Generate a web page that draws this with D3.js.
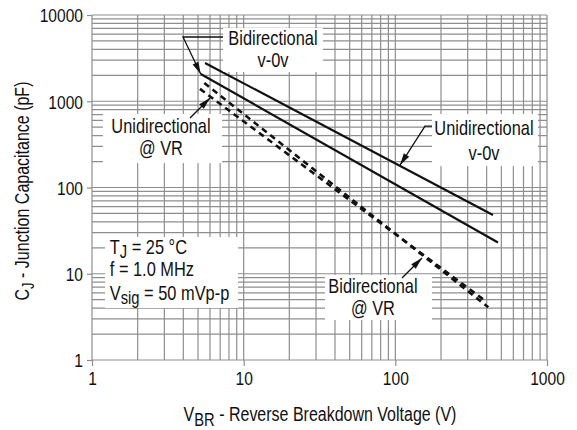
<!DOCTYPE html>
<html lang="en">
<head>
<meta charset="UTF-8">
<title>Junction Capacitance vs Reverse Breakdown Voltage</title>
<script src="https://d3js.org/d3.v7.min.js"></script>
<style>
  body { margin: 0; background: #fff; }
  svg { display: block; font-family: "Liberation Sans", Arial, sans-serif; }
  .grid line { stroke: #8e8e8e; stroke-width: 1.2; }
  .tick line { stroke: #8e8e8e; stroke-width: 1.2; }
  .tick text { font-size: 19px; fill: #111; }
  .note { font-size: 20px; fill: #111; }
  .title { font-size: 19.5px; fill: #111; }
</style>
</head>
<body>
<svg id="chart" width="577" height="430"></svg>
<script>
'use strict';

// axis ticks (log decades)
const xTicks = [1, 10, 100, 1000];
const yTicks = [1, 10, 100, 1000, 10000];

// curves: [V_BR (V), C_J (pF)] end points, straight on log-log paper
const uniZeroBias = [[5.56, 2780], [440, 48]];
const biZeroBias = [[5.21, 2070], [475, 23]];
const uniAtVR = [[5.15, 1390], [395, 4.8]];
const biAtVR = [[5.5, 1630], [410, 4.1]];

// no condensed face installed, so squeeze a regular sans horizontally
const SQUEEZE = 0.82;

const svg = d3.select('#chart');
const x = d3.scaleLog().domain([1, 1000]).range([92, 547]);
const y = d3.scaleLog().domain([1, 10000]).range([360, 15]);

// minor + major grid, 1..9 per decade
const decadeLines = (lo, hi) => {
    const out = [];
    for (let d = lo; d < hi; d *= 10)
        for (let k = 1; k < 10; k++) out.push(d * k);
    out.push(hi);
    return out;
};

const grid = svg.append('g').attr('class', 'grid');
grid.selectAll('.v').data(decadeLines(1, 1000)).enter().append('line')
    .attr('x1', d => x(d)).attr('x2', d => x(d))
    .attr('y1', y(1)).attr('y2', y(10000));
grid.selectAll('.h').data(decadeLines(1, 10000)).enter().append('line')
    .attr('x1', x(1)).attr('x2', x(1000))
    .attr('y1', d => y(d)).attr('y2', d => y(d));

// axes: short outside ticks, labels only at decades
const xAxis = d3.axisBottom(x).tickValues(xTicks).tickFormat(d3.format('d')).tickSize(6).tickPadding(6);
const yAxis = d3.axisLeft(y).tickValues(yTicks).tickFormat(d3.format('d')).tickSize(5).tickPadding(4);
const gx = svg.append('g').attr('transform', `translate(0,${y(1)})`).call(xAxis);
const gy = svg.append('g').attr('transform', `translate(${x(1)},0)`).call(yAxis);
[gx, gy].forEach(g => {
    g.select('.domain').remove();
    g.attr('font-family', null).attr('font-size', null);
    g.selectAll('.tick text').attr('transform', `scale(${SQUEEZE},1)`);
});
gy.selectAll('.tick text').attr('dy', '0.36em').attr('x', -9 / SQUEEZE);

// data lines
const line = d3.line().x(d => x(d[0])).y(d => y(d[1]));
const curves = [
    { pts: uniZeroBias, dash: null, w: 2.2 },
    { pts: biZeroBias, dash: null, w: 2.2 },
    { pts: uniAtVR, dash: '6,4.5', w: 2.6 },
    { pts: biAtVR, dash: '6,4.5', w: 2.6 }
];
svg.append('g').selectAll('path').data(curves).enter().append('path')
    .attr('d', d => line(d.pts))
    .attr('fill', 'none')
    .attr('stroke', '#111')
    .attr('stroke-width', d => d.w)
    .attr('stroke-dasharray', d => d.dash);

// callouts, placed in data units
const notes = [
    { lines: ['Bidirectional', 'v-0v'], tx: 15.6, base: [4487, 2515], box: [[7.31, 7064], [33.3, 2183]],
      leader: [[7.31, 5557], [3.98, 5557], biZeroBias[0]] },
    { lines: ['Unidirectional', 'v-0v'], tx: 384, base: [406, 208], box: [[174.5, 711], [872, 177]],
      leader: [[174.5, 516], [156.9, 516], [107.4, 182]] },
    { lines: ['Unidirectional', '@ VR'], tx: 2.85, base: [428.5, 238], box: [[1.18, 711], [7.2, 192]],
      leader: [[4.43, 640], [6.0, 1092]] },
    { lines: ['Bidirectional', '@ VR'], tx: 71.2, base: [5.98, 3.32], box: [[34.4, 9.67], [174.5, 2.91]],
      leader: [[110.7, 8.93], [149.9, 15.2]] }
];

const boxes = svg.append('g');
const labels = svg.append('g');
const leaders = svg.append('g');

function whiteBox(b) {
    boxes.append('rect')
        .attr('x', x(b[0][0])).attr('y', y(b[0][1]))
        .attr('width', x(b[1][0]) - x(b[0][0]))
        .attr('height', y(b[1][1]) - y(b[0][1]))
        .attr('fill', '#fff');
}

function narrowText(parent, px, py, cls) {
    return parent.append('text').attr('class', cls)
        .attr('transform', `translate(${px},${py}) scale(${SQUEEZE},1)`);
}

function arrow(pts) {
    const p = pts.map(d => [x(d[0]), y(d[1])]);
    leaders.append('path')
        .attr('d', d3.line()(p))
        .attr('fill', 'none').attr('stroke', '#111').attr('stroke-width', 1.3);
    const [ax, ay] = p[p.length - 2];
    const [bx, by] = p[p.length - 1];
    const len = Math.hypot(bx - ax, by - ay);
    const ux = (bx - ax) / len, uy = (by - ay) / len;
    const L = 12, W = 3.2;
    leaders.append('path')
        .attr('d', `M${bx},${by}L${bx - ux * L - uy * W},${by - uy * L + ux * W}L${bx - ux * L + uy * W},${by - uy * L - ux * W}Z`)
        .attr('fill', '#111');
}

notes.forEach(n => {
    whiteBox(n.box);
    n.lines.forEach((t, i) => {
        narrowText(labels, x(n.tx), y(n.base[i]), 'note')
            .attr('text-anchor', 'middle').text(t);
    });
    arrow(n.leader);
});

// test conditions block
whiteBox([[1.22, 26.7], [9.18, 4.01]]);
const cond = [[16.9, 'T', 'J', ' = 25 °C'], [9.42, 'f = 1.0 MHz', '', ''], [4.96, 'V', 'sig', ' = 50 mVp-p']];
cond.forEach(c => {
    const t = narrowText(labels, x(1.31), y(c[0]), 'note');
    t.append('tspan').text(c[1]);
    if (c[2]) {
        t.append('tspan').attr('dy', 4).attr('font-size', '18px').text(c[2]);
        t.append('tspan').attr('dy', -4).text(c[3]);
    }
});

// axis titles
const yt = svg.append('text').attr('class', 'title')
    .attr('transform', `translate(29,191) rotate(-90) scale(${SQUEEZE},1)`).attr('text-anchor', 'middle');
yt.append('tspan').text('C');
yt.append('tspan').attr('dy', 5).attr('font-size', '16px').text('J');
yt.append('tspan').attr('dy', -5).text(' - Junction Capacitance (pF)');

const xt = narrowText(svg, 320, 421, 'title').attr('text-anchor', 'middle');
xt.append('tspan').text('V');
xt.append('tspan').attr('dy', 5).attr('font-size', '18px').text('BR');
xt.append('tspan').attr('dy', -5).text(' - Reverse Breakdown Voltage (V)');
</script>
</body>
</html>
